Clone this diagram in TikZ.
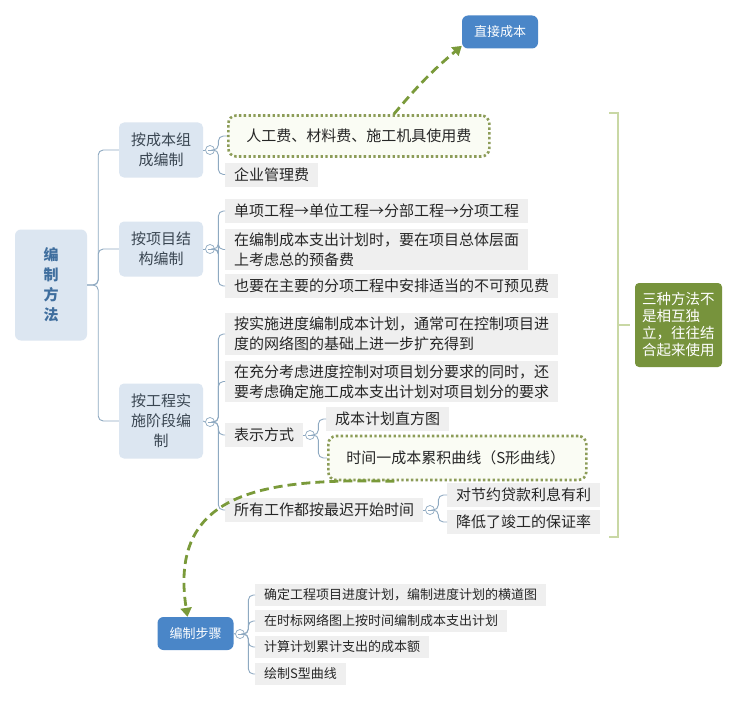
\documentclass[tikz,border=0pt]{standalone}
\usepackage{fontspec}
\setmainfont{Noto Sans CJK SC}
\usetikzlibrary{arrows.meta}

\definecolor{topicfill}{HTML}{DCE6F1}
\definecolor{roottext}{HTML}{3F6E9E}
\definecolor{topictext}{HTML}{3A4652}
\definecolor{itemfill}{HTML}{EFEFEF}
\definecolor{itemtext}{HTML}{262626}
\definecolor{linkcol}{HTML}{8EA9C1}
\definecolor{dotcol}{HTML}{8C9C58}
\definecolor{jumpcol}{HTML}{7A9A3A}
\definecolor{hilitefill}{HTML}{FAFCF4}
\definecolor{sumcol}{HTML}{C9D8A5}
\definecolor{notefill}{HTML}{77933C}
\definecolor{bluefill}{HTML}{4A86C8}

\begin{document}
\begin{tikzpicture}[x=1pt, y=-1pt,
    root/.style={fill=topicfill, rounded corners=6pt, minimum width=72pt, minimum height=111pt,
      align=center, text=roottext, font=\bfseries\fontsize{15}{20}\selectfont},
    topic/.style={fill=topicfill, rounded corners=5pt, minimum width=84pt, minimum height=55pt,
      align=center, text=topictext, font=\fontsize{15}{20}\selectfont},
    item/.style={fill=itemfill, anchor=west, align=left, inner xsep=9pt, inner ysep=4pt,
      minimum height=24pt, text=itemtext, font=\fontsize{15}{20}\selectfont},
    small/.style={item, minimum height=22pt, font=\fontsize{13}{17}\selectfont},
    hilite/.style={item, fill=hilitefill, draw=dotcol, line width=2.6pt, dash pattern=on 2.4pt off 2.4pt,
      rounded corners=8pt, inner xsep=18pt, minimum height=41pt},
    fold/.style={circle, draw=linkcol, fill=white, line width=0.7pt, minimum size=9pt, inner sep=0pt,
      path picture={\draw[linkcol, line width=0.7pt] ([xshift=2pt]path picture bounding box.west)
        -- ([xshift=-2pt]path picture bounding box.east);}},
    bluebox/.style={fill=bluefill, text=white, rounded corners=6pt, minimum width=76pt,
      minimum height=33pt, font=\fontsize{13}{17}\selectfont},
    note/.style={fill=notefill, text=white, rounded corners=4pt, text width=73pt, align=left,
      inner xsep=7pt, minimum height=84pt, font=\fontsize{14.5}{17}\selectfont},
    link/.style={draw=linkcol, line width=0.9pt, rounded corners=5pt},
    jump/.style={draw=jumpcol, line width=2.8pt, dash pattern=on 9pt off 5pt,
      -{Triangle[length=9pt, width=11pt]}},
    sum/.style={draw=sumcol, line width=2.4pt}]

    \fill[white] (0,0) rectangle (737,701);
    \useasboundingbox (0,0) rectangle (737,701);

    % root and main branches
    \node[root] (root) at (51,285) {编\\制\\方\\法};
    \node[topic] (c1) at (161,150) {按成本组\\成编制};
    \node[topic] (c2) at (161,249) {按项目结\\构编制};
    \node[topic, minimum height=75pt] (c3) at (161,421) {按工程实\\施阶段编\\制};
    \foreach \c in {c1,c2,c3}
      \draw[link] (root.east) -- ++(11,0) |- (\c.west);

    \node[fold] (f1) at (210,150) {};
    \node[fold] (f2) at (210,249) {};
    \node[fold] (f3) at (210,422) {};
    \draw[link] (c1.east) -- (f1.west);
    \draw[link] (c2.east) -- (f2.west);
    \draw[link] (c3.east) -- (f3.west);

    % by cost composition
    \node[hilite] (i1) at (227,136) {人工费、材料费、施工机具使用费};
    \node[item] (i2) at (225,174.5) {企业管理费};
    \foreach \i in {i1,i2}
      \draw[link] (f1.east) -- ++(3.5,0) |- (\i.west);

    % by project structure
    \node[item] (i3) at (225,211) {单项工程→单位工程→分部工程→分项工程};
    \node[item] (i4) at (225,249.5) {在编制成本支出计划时，要在项目总体层面\\上考虑总的预备费};
    \node[item] (i5) at (225,286) {也要在主要的分项工程中安排适当的不可预见费};
    \foreach \i in {i3,i4,i5}
      \draw[link] (f2.east) -- ++(3.5,0) |- (\i.west);

    % by implementation stage
    \node[item] (i6) at (225,334) {按实施进度编制成本计划，通常可在控制项目进\\度的网络图的基础上进一步扩充得到};
    \node[item] (i7) at (225,381.5) {在充分考虑进度控制对项目划分要求的同时，还\\要考虑确定施工成本支出计划对项目划分的要求};
    \node[item] (i8) at (225,435) {表示方式};
    \node[item] (i11) at (225,510) {所有工作都按最迟开始时间};
    \foreach \i in {i6,i7,i8,i11}
      \draw[link] (f3.east) -- ++(3.5,0) |- (\i.west);

    \node[fold] (f4) at (310,435) {};
    \draw[link] (i8.east) -- (f4.west);
    \node[item] (i9) at (326,419) {成本计划直方图};
    \node[hilite, text width=222pt, minimum height=44pt] (i10) at (327,458) {时间一成本累积曲线（S形曲线）};
    \foreach \i in {i9,i10}
      \draw[link] (f4.east) -- ++(3.5,0) |- (\i.west);

    \node[fold] (f5) at (430,510) {};
    \draw[link] (i11.east) -- (f5.west);
    \node[item] (i12) at (447,495) {对节约贷款利息有利};
    \node[item] (i13) at (447,522) {降低了竣工的保证率};
    \foreach \i in {i12,i13}
      \draw[link] (f5.east) -- ++(3.5,0) |- (\i.west);

    % summary on the right
    \node[note] (note) at (678.5,325) {三种方法不\\是相互独\\立，往往结\\合起来使用};
    \coordinate (sumtop) at (609,113);
    \coordinate (summid) at (618,325);
    \coordinate (sumbot) at (609,537);
    \draw[sum] (sumtop) -| (summid) |- (sumbot);
    \draw[sum] (summid) -- ([xshift=-5pt]note.west);

    % direct cost
    \node[bluebox] (dc) at (500,32) {直接成本};
    \draw[jump] ([xshift=35pt]i1.north) to[out=50, in=220] (dc.200);

    % steps
    \node[bluebox] (steps) at (195.5,633.5) {编制步骤};
    \draw[jump] ([xshift=-63pt]i10.south) .. controls (262,478) and (168,492) .. ([xshift=-8pt]steps.north);
    \node[fold] (f6) at (240,634) {};
    \draw[link] (steps.east) -- (f6.west);
    \node[small] (s1) at (255,595) {确定工程项目进度计划，编制进度计划的横道图};
    \node[small] (s2) at (255,621) {在时标网络图上按时间编制成本支出计划};
    \node[small] (s3) at (255,647) {计算计划累计支出的成本额};
    \node[small] (s4) at (255,674) {绘制S型曲线};
    \foreach \s in {s1,s2,s3,s4}
      \draw[link] (f6.east) -- ++(3.5,0) |- (\s.west);
  \end{tikzpicture}
\end{document}
